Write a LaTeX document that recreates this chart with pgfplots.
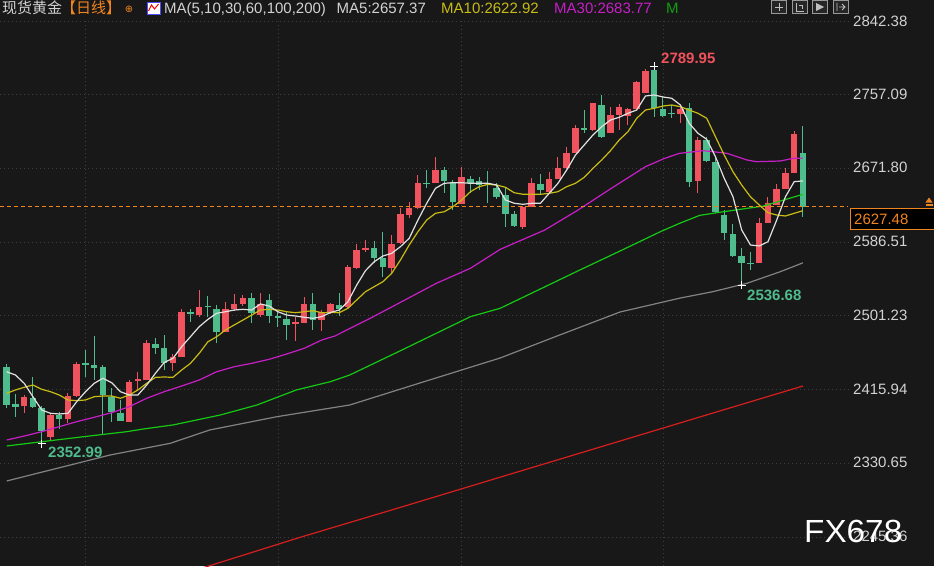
\documentclass[border=0pt]{standalone}
\usepackage{fontspec}
\setmainfont{Liberation Sans}
\newfontfamily\cjk{Noto Sans CJK SC}
\newfontfamily\dejavu{DejaVu Sans}
\usepackage{pgfplots}
\pgfplotsset{compat=1.18}
\usepackage{pgfplotstable}
\definecolor{bg}{RGB}{24,24,24}
\definecolor{cred}{RGB}{240,82,94}
\definecolor{cgreen}{RGB}{78,188,140}
\definecolor{gridc}{RGB}{62,62,62}
\definecolor{tickc}{RGB}{210,210,210}
\definecolor{orangec}{RGB}{240,132,30}
\definecolor{ma5}{RGB}{225,225,225}
\definecolor{ma10}{RGB}{200,188,20}
\definecolor{ma30}{RGB}{200,30,200}
\definecolor{ma60}{RGB}{20,200,20}
\definecolor{ma100}{RGB}{130,130,130}
\definecolor{ma200}{RGB}{215,30,30}
\newcommand\fs[1]{\fontsize{#1pt}{#1pt}\selectfont}

% rising candles (red)
\pgfplotstableread{
i o h l c
2 2396.9 2409.7 2388.5 2407.7
5 2361.4 2388.5 2356.8 2386.5
7 2381.5 2412.3 2376.9 2408.9
8 2408.5 2448.2 2407.5 2445.5
14 2378.8 2427.0 2378.4 2425.1
15 2426.2 2436.6 2414.6 2427.8
16 2427.0 2473.3 2426.6 2469.5
19 2446.3 2457.1 2437.8 2453.3
20 2454.0 2508.8 2453.6 2505.3
22 2502.2 2531.2 2499.6 2511.8
25 2482.9 2517.6 2482.5 2509.2
26 2508.8 2526.5 2506.9 2515.0
27 2515.0 2525.4 2512.6 2522.2
29 2502.2 2528.0 2500.3 2515.0
33 2492.6 2500.3 2472.5 2494.0
34 2493.3 2523.4 2492.8 2515.0
36 2496.4 2508.0 2484.1 2506.0
37 2504.2 2515.8 2503.8 2515.0
39 2511.1 2560.1 2510.7 2557.4
40 2556.3 2584.4 2555.9 2577.4
41 2577.4 2589.0 2575.5 2580.1
44 2556.3 2594.8 2550.5 2584.4
45 2585.2 2625.7 2584.8 2619.1
46 2617.9 2633.3 2614.1 2625.7
47 2625.7 2664.2 2624.5 2655.3
49 2655.3 2684.7 2654.6 2670.0
52 2630.7 2673.1 2630.3 2661.5
59 2604.4 2628.3 2601.4 2627.5
60 2627.5 2660.4 2627.1 2655.3
62 2644.9 2668.0 2643.0 2659.6
63 2659.6 2684.7 2659.2 2672.0
64 2672.0 2696.3 2670.8 2690.0
65 2690.0 2722.1 2689.6 2718.9
67 2716.3 2747.9 2715.5 2747.2
69 2713.1 2743.2 2712.7 2733.6
70 2733.6 2746.4 2716.3 2743.2
71 2732.5 2741.3 2722.1 2740.2
72 2740.2 2773.3 2739.8 2772.2
73 2759.4 2786.5 2759.0 2784.5
77 2734.8 2745.2 2724.0 2740.6
79 2657.6 2708.5 2643.0 2704.7
86 2562.7 2614.1 2562.3 2609.0
87 2609.0 2638.4 2608.6 2631.5
88 2629.5 2653.8 2629.1 2648.4
89 2648.0 2672.6 2647.6 2666.9
90 2666.9 2715.5 2666.5 2711.6
}\upcandles

% falling candles (green)
\pgfplotstableread{
i o h l c
0 2442.4 2445.2 2394.3 2398.1
1 2399.3 2410.8 2383.9 2395.4
3 2405.9 2430.8 2394.8 2395.4
4 2394.3 2396.9 2352.99 2368.4
6 2386.5 2390.3 2370.0 2381.5
9 2447.0 2461.7 2430.8 2444.4
10 2444.4 2477.9 2427.0 2440.6
11 2442.4 2444.6 2363.4 2409.7
12 2407.7 2417.4 2378.8 2390.3
13 2389.2 2403.9 2379.5 2379.9
17 2468.7 2475.3 2457.1 2463.7
18 2463.7 2479.1 2438.6 2446.3
21 2506.0 2508.8 2494.5 2503.0
23 2513.0 2524.2 2499.6 2511.8
24 2509.2 2513.8 2470.2 2482.9
28 2522.2 2528.0 2493.3 2504.2
30 2519.6 2526.5 2493.3 2501.1
31 2501.1 2506.0 2488.7 2499.1
32 2497.2 2506.0 2473.3 2490.7
35 2515.0 2527.3 2484.9 2496.4
38 2513.8 2528.0 2501.1 2508.8
42 2580.1 2588.2 2562.0 2567.8
43 2567.8 2598.6 2546.5 2557.4
48 2655.3 2670.0 2648.8 2653.8
50 2670.0 2673.1 2643.0 2657.6
51 2655.8 2658.4 2623.7 2633.3
53 2659.2 2663.1 2643.0 2655.3
54 2657.6 2661.5 2646.9 2652.6
55 2655.3 2669.2 2631.5 2653.8
56 2648.8 2654.6 2636.1 2639.1
57 2641.1 2650.7 2603.7 2619.1
58 2619.1 2622.9 2603.7 2605.2
61 2653.8 2665.4 2641.1 2646.9
66 2718.9 2739.4 2713.1 2716.3
68 2745.2 2756.8 2707.4 2707.8
74 2785.7 2789.95 2731.7 2741.4
75 2740.6 2754.8 2731.7 2732.5
76 2736.3 2745.2 2729.8 2734.8
78 2741.4 2747.9 2650.7 2656.5
80 2704.7 2708.5 2679.6 2680.8
81 2679.6 2685.4 2620.6 2621.7
82 2617.9 2623.7 2589.0 2596.8
83 2595.9 2607.5 2569.7 2570.5
84 2570.5 2579.4 2536.68 2562.7
85 2562.7 2575.5 2554.3 2561.2
91 2690.0 2720.9 2616.0 2627.48
}\downcandles

\begin{document}
\begin{tikzpicture}
\fill[bg] (0,0) rectangle (934pt,566pt);
\begin{axis}[at={(0,0)}, anchor=south west,
  width=934pt, height=566pt, scale only axis,
  xmin=-0.7657, xmax=105.977, ymin=2211.82, ymax=2866.68,
  hide axis, clip=true]

% grid
\pgfplotsinvokeforeach{2842.38,2757.09,2671.80,2586.51,2501.23,2415.94,2330.65,2245.36}{
  \addplot[gridc, line width=0.8pt, dash pattern=on 1pt off 3pt] coordinates {(-0.77,#1) (96.15,#1)};
}
\pgfplotsinvokeforeach{9,31,52,75}{
  \addplot[gridc, line width=0.8pt, dash pattern=on 1pt off 3pt] coordinates {(#1,2211.82) (#1,2842.38)};
}

% wicks
\addplot[draw=none, mark=none, error bars/.cd, y dir=both, y explicit, error mark=none,
  error bar style={draw=cred, solid, line width=1pt}]
  table[x=i, y expr={(\thisrow{h}+\thisrow{l})/2}, y error expr={(\thisrow{h}-\thisrow{l})/2}] {\upcandles};
\addplot[draw=none, mark=none, error bars/.cd, y dir=both, y explicit, error mark=none,
  error bar style={draw=cgreen, solid, line width=1pt}]
  table[x=i, y expr={(\thisrow{h}+\thisrow{l})/2}, y error expr={(\thisrow{h}-\thisrow{l})/2}] {\downcandles};
% bodies
\addplot[draw=none, mark=none, error bars/.cd, y dir=both, y explicit, error mark=none,
  error bar style={draw=cred, solid, line width=6.5pt, line cap=butt}]
  table[x=i, y expr={(\thisrow{o}+\thisrow{c})/2}, y error expr={abs(\thisrow{o}-\thisrow{c})/2}] {\upcandles};
\addplot[draw=none, mark=none, error bars/.cd, y dir=both, y explicit, error mark=none,
  error bar style={draw=cgreen, solid, line width=6.5pt, line cap=butt}]
  table[x=i, y expr={(\thisrow{o}+\thisrow{c})/2}, y error expr={abs(\thisrow{o}-\thisrow{c})/2}] {\downcandles};

% extremes
\addplot[only marks, mark=+, mark size=4pt, white, line width=1pt] coordinates {(74,2789.95) (4,2352.99) (84,2536.68)};

% MA200
\addplot[ma200, line width=1.2pt] coordinates {(19.8,2201.4) (33.5,2244.9) (45,2279.7) (56.4,2314.6) (67.8,2349.4) (79.2,2384.2) (91,2420.1)};
% MA100
\addplot[ma100, line width=1.2pt] coordinates {(0,2310.2) (11.8,2340.2) (18.7,2353.8) (23.2,2369.2) (30.9,2384.6) (39.2,2398.1) (47.2,2423.5) (56.4,2452.5) (63.2,2479.1) (70.1,2505.7) (77,2521.9) (80.7,2529.2) (84.6,2538.9) (88.4,2552.3) (91,2562.6)};
% MA60
\addplot[ma60, line width=1.2pt] coordinates {(0,2350.7) (4,2355.6) (8.75,2361.4) (13.7,2367.2) (15.6,2370.3) (19,2375.0) (24.4,2386.5) (28.6,2398.1) (33.1,2415.5) (37,2425.1) (39.2,2432.8) (45,2460.9) (53,2500.3) (56.4,2510.0) (65.5,2554.3) (70.1,2576.3) (74.7,2598.6) (76.9,2608.3) (79.2,2617.5) (81.9,2621.7) (86.5,2628.3) (91,2641.9)};
% MA30
\addplot[ma30, line width=1.2pt] coordinates {(0,2357.6) (2,2362.2) (4,2367.2) (6,2373.0) (8,2378.8) (10,2383.9) (12,2389.2) (14,2396.1) (16,2405.9) (18,2413.5) (20,2420.1) (22,2427.0) (24,2436.6) (26,2442.4) (28,2446.3) (30,2451.0) (32,2457.1) (34,2463.7) (36,2473.3) (37.5,2477.9) (41.9,2500.3) (44.8,2515.8) (49.1,2538.9) (53,2556.3) (56.4,2578.2) (61.5,2600.6) (65.3,2623.7) (69.1,2648.8) (73,2673.8) (75.2,2683.5) (76.9,2689.3) (79.6,2692.3) (80.7,2691.2) (82.3,2689.3) (84.6,2681.6) (85.7,2679.6) (88.4,2680.4) (89.9,2683.5) (91,2683.77)};
% MA10
\addplot[ma10, line width=1.2pt] coordinates {(0,2411.6) (1,2415.5) (2,2418.6) (3,2421.2) (4,2416.3) (5,2413.5) (6,2409.7) (7,2403.9) (8,2403.1) (9,2403.9) (10,2407.7) (11,2408.5) (12,2408.5) (13,2405.9) (14,2409.7) (15,2415.5) (16,2423.2) (17,2430.1) (18,2430.5) (19,2430.1) (20,2438.6) (21,2446.3) (22,2457.9) (23,2471.3) (24,2477.1) (25,2484.9) (26,2490.7) (27,2496.4) (28,2502.2) (29,2508.0) (30,2508.8) (31,2508.0) (32,2506.0) (33,2504.9) (34,2506.0) (35,2507.2) (36,2504.9) (37,2505.1) (38,2504.9) (39,2510.0) (40,2519.6) (41,2529.2) (42,2535.0) (43,2540.8) (44,2550.5) (45,2565.9) (46,2583.2) (47,2598.6) (48,2612.1) (49,2619.9) (50,2621.7) (51,2627.5) (52,2635.3) (53,2644.9) (54,2650.7) (55,2653.4) (56,2652.6) (57,2650.0) (58,2643.7) (59,2641.9) (60,2641.9) (61,2641.9) (62,2643.0) (63,2644.9) (64,2650.7) (65,2654.6) (66,2661.5) (67,2671.9) (68,2681.6) (69,2692.3) (70,2704.7) (71,2714.3) (72,2729.8) (73,2739.4) (74,2741.4) (75,2744.0) (76,2745.2) (77,2743.2) (78,2739.4) (79,2735.6) (80,2729.8) (81,2708.5) (82,2687.3) (83,2668.0) (84,2652.6) (85,2639.1) (86,2629.5) (87,2620.6) (88,2617.9) (89,2616.8) (90,2619.9) (91,2622.92)};
% MA5
\addplot[ma5, line width=1.2pt] coordinates {(0,2436.6) (1,2432.8) (2,2423.2) (3,2407.7) (4,2392.3) (5,2388.5) (6,2387.7) (7,2388.5) (8,2401.9) (9,2413.5) (10,2423.2) (11,2429.0) (12,2423.9) (13,2413.5) (14,2409.7) (15,2409.7) (16,2421.2) (17,2434.8) (18,2447.3) (19,2452.1) (20,2465.6) (21,2477.1) (22,2488.7) (23,2497.2) (24,2504.2) (25,2506.0) (26,2508.0) (27,2508.8) (28,2508.0) (29,2515.0) (30,2512.6) (31,2506.0) (32,2502.2) (33,2501.1) (34,2499.6) (35,2498.4) (36,2500.3) (37,2505.1) (38,2508.0) (39,2517.6) (40,2536.9) (41,2553.5) (42,2563.9) (43,2570.5) (44,2573.6) (45,2581.3) (46,2591.0) (47,2612.1) (48,2631.5) (49,2648.8) (50,2654.6) (51,2655.3) (52,2655.3) (53,2654.6) (54,2654.6) (55,2654.6) (56,2652.6) (57,2635.3) (58,2631.5) (59,2630.3) (60,2631.5) (61,2631.5) (62,2643.0) (63,2654.6) (64,2670.0) (65,2687.3) (66,2698.9) (67,2710.5) (68,2720.1) (69,2727.8) (70,2731.0) (71,2735.6) (72,2739.4) (73,2755.6) (74,2756.8) (75,2754.5) (76,2753.0) (77,2745.2) (78,2724.0) (79,2712.5) (80,2705.5) (81,2685.4) (82,2660.4) (83,2639.1) (84,2600.6) (85,2583.2) (86,2582.1) (87,2587.0) (88,2612.1) (89,2639.1) (90,2656.5) (91,2657.37)};

% last price line
\addplot[orangec, line width=1pt, dash pattern=on 4pt off 3pt] coordinates {(-0.77,2627.48) (96.15,2627.48)};
\end{axis}

\begin{scope}[x=1pt, y=-1pt, yshift=566pt]
% header
\node[anchor=base west, inner sep=0, text=tickc, font={\cjk\fs{15}}] at (2,14) {现货黄金};
\node[anchor=base west, inner sep=0, text=orangec, font={\cjk\fs{15}}] at (61,14) {【日线】};
\node[inner sep=0, text=orangec, font={\dejavu\fs{10}}] at (129,9) {⊕};
\fill[white] (147,2) rectangle (160,14);
\draw[blue!70, line width=0.8pt] (147,2) rectangle (160,14);
\draw[red, line width=1pt] (148.5,11) -- (151.5,5) -- (154.5,9) -- (158.5,4);
\node[anchor=base west, inner sep=0, text=tickc, font={\fs{15}}] at (164,14) {MA(5,10,30,60,100,200)};
\node[anchor=base west, inner sep=0, text=tickc, font={\fs{15}}] at (336.5,14) {MA5:2657.37};
\node[anchor=base west, inner sep=0, text=ma10, font={\fs{15}}] at (441,14) {MA10:2622.92};
\node[anchor=base west, inner sep=0, text=ma30, font={\fs{15}}] at (554,14) {MA30:2683.77};
\node[anchor=base west, inner sep=0, text=ma60!80!black, font={\fs{15}}] at (666,14) {M};
% toolbar icons
\foreach \xa in {771.5,792.5,812.5,833.5}{
  \filldraw[fill=black!85, draw=black!40, line width=0.8pt] (\xa,0.5) rectangle ++(15,13);
}
\draw[black!25, line width=0.8pt] (775,7) -- (783,7) (779,3) -- (779,11);
\draw[black!25, line width=0.8pt] (796,3) -- (796,11) -- (804,11) (799,5) -- (802,5) -- (802,9);
\fill[black!25] (816,3) -- (824,7) -- (816,11) -- cycle;
\draw[black!25, line width=0.8pt] (837,3) -- (837,11) (839,7) -- (845,7) (842,4) -- (845,7) -- (842,10);
% right scale
\foreach \yy/\lab in {21.7/2842.38, 93.9/2757.09, 167/2671.80, 241/2586.51, 315/2501.23, 389/2415.94, 462/2330.65, 536/2245.36}{
  \node[anchor=west, inner sep=0, text=tickc, font={\fs{15}}] at (853,\yy) {\lab};
}
\filldraw[fill=black, draw=orangec, line width=1pt] (850.5,208.5) rectangle (940,229.5);
\node[anchor=west, inner sep=0, text=orangec, font={\fs{15}}] at (854,219) {2627.48};
\fill[orangec] (929,197.5) -- (925.5,202.5) -- (932.5,202.5) -- cycle;
\fill[orangec] (925.5,203.5) rectangle (932.5,205.5);
% extreme labels
\node[anchor=west, inner sep=0, text=cred, font={\bfseries\fs{15}}] at (661,58.3) {2789.95};
\node[anchor=west, inner sep=0, text=cgreen, font={\bfseries\fs{15}}] at (747,295.5) {2536.68};
\node[anchor=west, inner sep=0, text=cgreen, font={\bfseries\fs{15}}] at (48,452.5) {2352.99};
% watermark (drawn over the lowest scale label, as in the original)
\node[anchor=west, inner sep=0, text=white, font={\fs{32}}] at (804,531) {\scalebox{1.04}[1]{FX678}};
\end{scope}
\pgfresetboundingbox
\path (0,0) rectangle (934pt,566pt);
\end{tikzpicture}
\end{document}
